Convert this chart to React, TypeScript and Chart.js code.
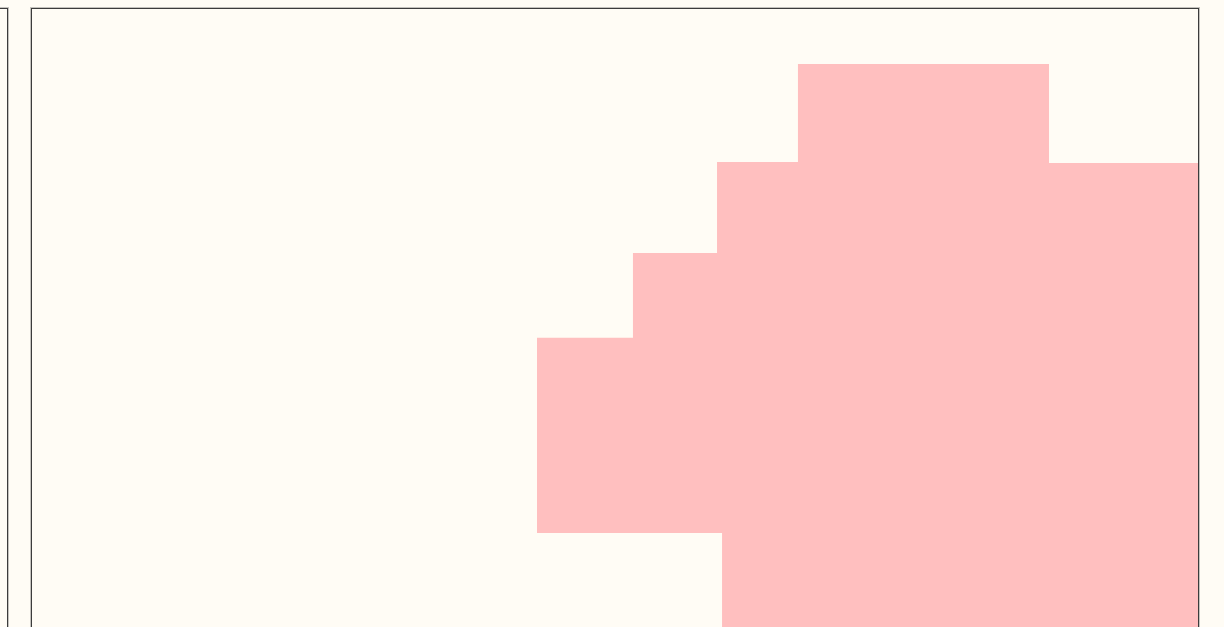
import React, { useEffect, useRef } from "react";
import { Chart, registerables } from "chart.js";

Chart.register(...registerables);

// Outline of the filled region (data units, 0..100 on each axis), clockwise
const shapeX: number[] = [65.69, 87.22, 87.22, 102, 102, 59.18, 59.18, 43.31, 43.31, 51.54, 51.54, 58.75, 58.75, 65.69];
const shapeY: number[] = [92.14, 92.14, 78.0, 78.0, -5, -5, 25.14, 25.14, 53.03, 53.03, 65.14, 65.14, 78.14, 78.14];

const PAGE_BG = "#fffcf5";
const FILL = "#ffbfbf";
const FRAME = "#3c3c3c";

export default function App() {
  const ref = useRef<HTMLCanvasElement | null>(null);

  useEffect(() => {
    document.body.style.backgroundColor = PAGE_BG;
    document.body.style.overflow = "hidden";
    const canvas = ref.current;
    if (!canvas) return;
    const points = shapeX.map((x, i) => ({ x, y: shapeY[i] }));
    const chart = new Chart(canvas, {
      type: "scatter",
      data: {
        datasets: [
          {
            data: points,
            showLine: true,
            fill: "shape",
            backgroundColor: FILL,
            borderColor: "rgba(0,0,0,0)",
            borderWidth: 0,
            pointRadius: 0,
            pointHoverRadius: 0,
            tension: 0,
          } as any,
        ],
      },
      options: {
        responsive: false,
        animation: false,
        layout: { padding: 0 },
        plugins: { legend: { display: false }, tooltip: { enabled: false } },
        events: [],
        scales: {
          x: { type: "linear", min: 0, max: 100, display: false },
          y: { type: "linear", min: 0, max: 100, display: false },
        },
      },
    });
    return () => chart.destroy();
  }, []);

  const frameStyle = {
    position: "fixed" as const,
    top: 8,
    height: 720,
    boxSizing: "border-box" as const,
    border: `1px solid ${FRAME}`,
    boxShadow: "0 0 0 1px rgba(60,60,60,0.3)",
    background: PAGE_BG,
  };

  return (
    <div>
      <div style={{ ...frameStyle, left: -200, width: 208 }} />
      <div style={{ ...frameStyle, left: 31, width: 1168 }}>
        <canvas ref={ref} width={1166} height={700} style={{ display: "block", width: 1166, height: 700 }} />
      </div>
    </div>
  );
}
